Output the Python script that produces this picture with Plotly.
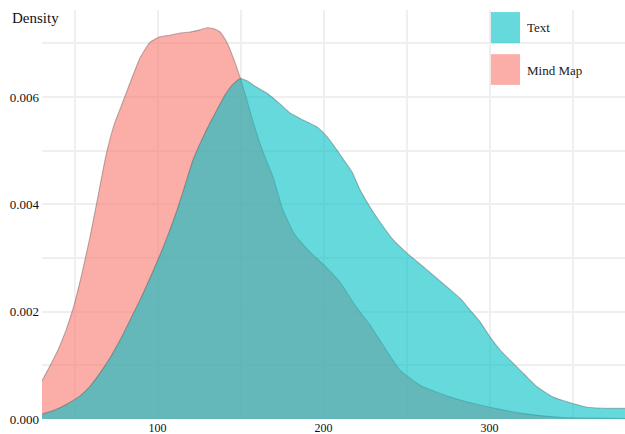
import plotly.graph_objects as go

# ---- data ----
series_names = ["Text", "Mind Map"]

mind_map_x = [30.4, 35.2, 40.1, 44.9, 49.7, 54.5, 59.3, 64.2, 69.0, 73.8, 78.6, 83.4,
              89.5, 95.5, 101.5, 107.5, 113.6, 119.6, 125.6, 129.8, 134.0, 137.7, 141.9,
              145.5, 149.7, 153.3, 156.9, 161.7, 165.4, 169.6, 175.6, 182.8, 191.9, 200.9,
              209.9, 219.0, 228.0, 237.0, 246.1, 258.1, 274.4, 294.3, 318.4, 342.5, 381.6]
mind_map_y = [0.00071, 0.00099, 0.00129, 0.00166, 0.00212, 0.00272, 0.00339, 0.00416,
              0.00492, 0.00548, 0.00587, 0.00626, 0.00673, 0.00702, 0.00712, 0.00715,
              0.00719, 0.00721, 0.00725, 0.00729, 0.00727, 0.00721, 0.00701, 0.00674,
              0.00637, 0.00600, 0.00561, 0.00514, 0.00483, 0.00451, 0.00389, 0.00343,
              0.00311, 0.00285, 0.00255, 0.00212, 0.00175, 0.00132, 0.00091, 0.00063,
              0.00043, 0.00026, 0.00011, 0.00003, 0.00001]

text_x = [30.4, 38.3, 45.5, 53.3, 59.3, 65.4, 71.4, 77.4, 83.4, 89.5, 95.5, 101.5,
          106.3, 111.7, 116.6, 121.4, 128.6, 135.8, 140.7, 144.9, 149.7, 153.9, 158.7,
          166.0, 173.8, 179.8, 187.7, 196.1, 202.7, 208.1, 213.0, 217.2, 222.0, 228.0,
          234.0, 241.9, 250.3, 261.1, 274.4, 282.2, 288.3, 294.3, 300.3, 306.3, 314.2,
          321.4, 328.6, 338.3, 346.7, 358.7, 369.6, 381.6]
text_y = [0.00009, 0.00017, 0.00028, 0.00043, 0.00061, 0.00086, 0.00114, 0.00147,
          0.00184, 0.00222, 0.00263, 0.00306, 0.00343, 0.00389, 0.00436, 0.00483,
          0.00533, 0.00576, 0.00604, 0.00622, 0.00634, 0.00630, 0.00620, 0.00607,
          0.00587, 0.00570, 0.00557, 0.00544, 0.00524, 0.00501, 0.00479, 0.00460,
          0.00427, 0.00395, 0.00367, 0.00334, 0.00309, 0.00281, 0.00246, 0.00225,
          0.00203, 0.00181, 0.00153, 0.00129, 0.00104, 0.00082, 0.00060, 0.00041,
          0.00032, 0.00022, 0.00020, 0.00020]

x_tick_vals = [100, 200, 300]
y_tick_vals = [0.000, 0.002, 0.004, 0.006]
y_tick_text = ["0.000", "0.002", "0.004", "0.006"]

# ---- styles ----
fills = {"Text": "rgba(0,191,196,0.6)", "Mind Map": "rgba(248,118,109,0.6)"}
outline = "rgba(60,60,60,0.35)"
FONT = "Liberation Serif, Times New Roman, serif"

fig = go.Figure()
fig.add_trace(go.Scatter(x=mind_map_x, y=mind_map_y, name="Mind Map", mode="lines",
                         line=dict(color=outline, width=1.1, shape="spline", smoothing=0.5),
                         fill="tozeroy", fillcolor=fills["Mind Map"], showlegend=False))
fig.add_trace(go.Scatter(x=text_x, y=text_y, name="Text", mode="lines",
                         line=dict(color=outline, width=1.1, shape="spline", smoothing=0.5),
                         fill="tozeroy", fillcolor=fills["Text"], showlegend=False))

# custom legend (large square keys); plot area is 409 px tall starting 10 px from top
legend_rows = [(0.995, 0.919, 0.956), (0.892, 0.817, 0.853)]
for name, (y1, y0, yc) in zip(series_names, legend_rows):
    fig.add_shape(type="rect", xref="paper", yref="paper", x0=0.770, x1=0.820,
                  y0=y0, y1=y1, fillcolor=fills[name], line=dict(width=0), layer="above")
    fig.add_annotation(text=name, xref="paper", yref="paper", x=0.828, y=yc,
                       xanchor="left", yanchor="middle", showarrow=False,
                       font=dict(family=FONT, size=13, color="#222"))

fig.add_annotation(text="Density", xref="paper", yref="paper", x=-0.055, y=0.981,
                   xanchor="left", yanchor="middle", showarrow=False,
                   font=dict(family=FONT, size=15, color="#111"))

grid = "#EFEFEF"
fig.update_layout(
    width=625, height=434,
    margin=dict(l=42, r=0, t=10, b=15, autoexpand=False),
    paper_bgcolor="white", plot_bgcolor="white",
    font=dict(family=FONT, size=13, color="#111"),
    xaxis=dict(range=[30.4, 381.6], tickvals=x_tick_vals, showgrid=True, automargin=False,
               gridcolor=grid, gridwidth=2, zeroline=False, showline=False, ticks="",
               ticklabelstandoff=0,
               minor=dict(dtick=50, tick0=0, showgrid=True, gridcolor=grid, gridwidth=2),
               tickfont=dict(family=FONT, size=12)),
    yaxis=dict(range=[0, 0.00762], tickvals=y_tick_vals, ticktext=y_tick_text,
               showgrid=True, gridcolor=grid, gridwidth=2, zeroline=False, automargin=False,
               showline=False, ticks="", ticklabelstandoff=2,
               minor=dict(dtick=0.001, tick0=0, showgrid=True, gridcolor=grid, gridwidth=2),
               tickfont=dict(family=FONT, size=13)),
)

fig.write_html("out.html", config={"displayModeBar": False},
               post_script="document.body.style.margin='0';document.body.style.padding='0';")
